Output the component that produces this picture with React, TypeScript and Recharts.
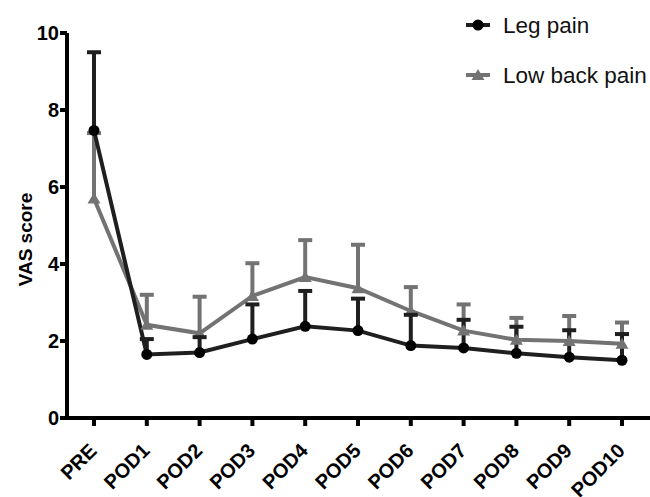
import { LineChart, Line, XAxis, YAxis, ErrorBar } from 'recharts'

const categories = ['PRE', 'POD1', 'POD2', 'POD3', 'POD4', 'POD5', 'POD6', 'POD7', 'POD8', 'POD9', 'POD10']
const legMean = [7.47, 1.65, 1.7, 2.05, 2.38, 2.27, 1.88, 1.82, 1.68, 1.58, 1.5]
const legUpper = [9.5, 2.05, 2.1, 2.95, 3.3, 3.1, 2.68, 2.55, 2.37, 2.28, 2.18]
const lbpMean = [5.7, 2.42, 2.2, 3.17, 3.66, 3.37, 2.78, 2.27, 2.03, 2.0, 1.93]
const lbpUpper = [7.4, 3.2, 3.15, 4.02, 4.62, 4.5, 3.4, 2.95, 2.6, 2.65, 2.48]
const yTicks = [0, 2, 4, 6, 8, 10]

const BLACK = '#1f1f1f'
const GRAY = '#737373'
const FONT = '"Liberation Sans", Arial, Helvetica, sans-serif'

const data = categories.map((name, i) => ({
  name,
  leg: legMean[i],
  legTop: legUpper[i],
  legErr: [0, +(legUpper[i] - legMean[i]).toFixed(2)],
  lbp: lbpMean[i],
  lbpTop: lbpUpper[i],
  lbpErr: [0, +(lbpUpper[i] - lbpMean[i]).toFixed(2)],
}))

const XTick = ({ x, y, payload }: any) => (
  <g transform={`translate(${x},${y})`}>
    <text
      x={0}
      y={0}
      transform="translate(4,24) rotate(-45)"
      textAnchor="end"
      fontFamily={FONT}
      fontWeight="bold"
      fontSize={20}
      fill="#000"
    >
      {payload.value}
    </text>
  </g>
)

const YTick = ({ x, y, payload }: any) => (
  <text
    x={x}
    y={y}
    dy="0.36em"
    textAnchor="end"
    fontFamily={FONT}
    fontWeight="bold"
    fontSize={20}
    fill="#000"
  >
    {payload.value}
  </text>
)

const Triangle = ({ cx, cy, index }: any) => (
  <polygon
    key={`tri-${index}`}
    points={`${cx},${cy - 6} ${cx + 6.5},${cy + 5} ${cx - 6.5},${cy + 5}`}
    fill={GRAY}
  />
)

// cap drawn at the top end of an error bar
const makeCap = (color: string) => ({ cx, cy, index }: any) => (
  <line key={`cap-${index}`} x1={cx - 7} y1={cy} x2={cx + 7} y2={cy} stroke={color} strokeWidth={4} />
)

const YLabel = ({ viewBox }: any) => {
  const cx = 25
  const cy = viewBox.y + viewBox.height / 2 + 14
  return (
    <text
      x={cx}
      y={cy}
      transform={`rotate(-90,${cx},${cy})`}
      textAnchor="middle"
      dominantBaseline="central"
      fontFamily={FONT}
      fontWeight="bold"
      fontSize={19}
      fill="#000"
    >
      VAS score
    </text>
  )
}

export default function App() {
  return (
    <div style={{ position: 'absolute', left: 0, top: 0, width: 650, height: 497, background: '#fff' }}>
      <LineChart width={650} height={497} data={data} margin={{ top: 33, right: 0, left: 0, bottom: 0 }}>
        <XAxis
          dataKey="name"
          scale="point"
          padding={{ left: 27, right: 28 }}
          height={79}
          axisLine={{ stroke: '#000', strokeWidth: 4 }}
          tickLine={{ stroke: '#000', strokeWidth: 4 }}
          tickSize={8}
          tick={<XTick />}
          interval={0}
        />
        <YAxis
          width={67}
          domain={[0, 10]}
          ticks={yTicks}
          axisLine={{ stroke: '#000', strokeWidth: 4 }}
          tickLine={{ stroke: '#000', strokeWidth: 4 }}
          tickSize={7}
          tickMargin={1}
          tick={<YTick />}
          label={<YLabel />}
        />
        <Line
          dataKey="lbp"
          stroke={GRAY}
          strokeWidth={4}
          dot={<Triangle />}
          isAnimationActive={false}
        >
          <ErrorBar dataKey="lbpErr" direction="y" width={0} stroke={GRAY} strokeWidth={4} />
        </Line>
        <Line
          dataKey="lbpTop"
          stroke="none"
          dot={makeCap(GRAY)}
          activeDot={false}
          legendType="none"
          isAnimationActive={false}
        />
        <Line
          dataKey="leg"
          stroke={BLACK}
          strokeWidth={4}
          dot={{ r: 5.5, fill: '#000', stroke: '#000', strokeWidth: 0 }}
          isAnimationActive={false}
        >
          <ErrorBar dataKey="legErr" direction="y" width={0} stroke={BLACK} strokeWidth={4} />
        </Line>
        <Line
          dataKey="legTop"
          stroke="none"
          dot={makeCap(BLACK)}
          activeDot={false}
          legendType="none"
          isAnimationActive={false}
        />
      </LineChart>
      <svg width={650} height={100} style={{ position: 'absolute', left: 0, top: 0, pointerEvents: 'none' }}>
        <line x1={466} y1={25} x2={490} y2={25} stroke={BLACK} strokeWidth={4} />
        <circle cx={478} cy={25} r={5.5} fill="#000" />
        <text x={503} y={33} fontFamily={FONT} fontSize={22.5} fill="#111">
          Leg pain
        </text>
        <line x1={466} y1={75} x2={490} y2={75} stroke={GRAY} strokeWidth={4} />
        <polygon points="478,69 484.5,80 471.5,80" fill={GRAY} />
        <text x={503} y={83} fontFamily={FONT} fontSize={22.5} fill="#111">
          Low back pain
        </text>
      </svg>
    </div>
  )
}
